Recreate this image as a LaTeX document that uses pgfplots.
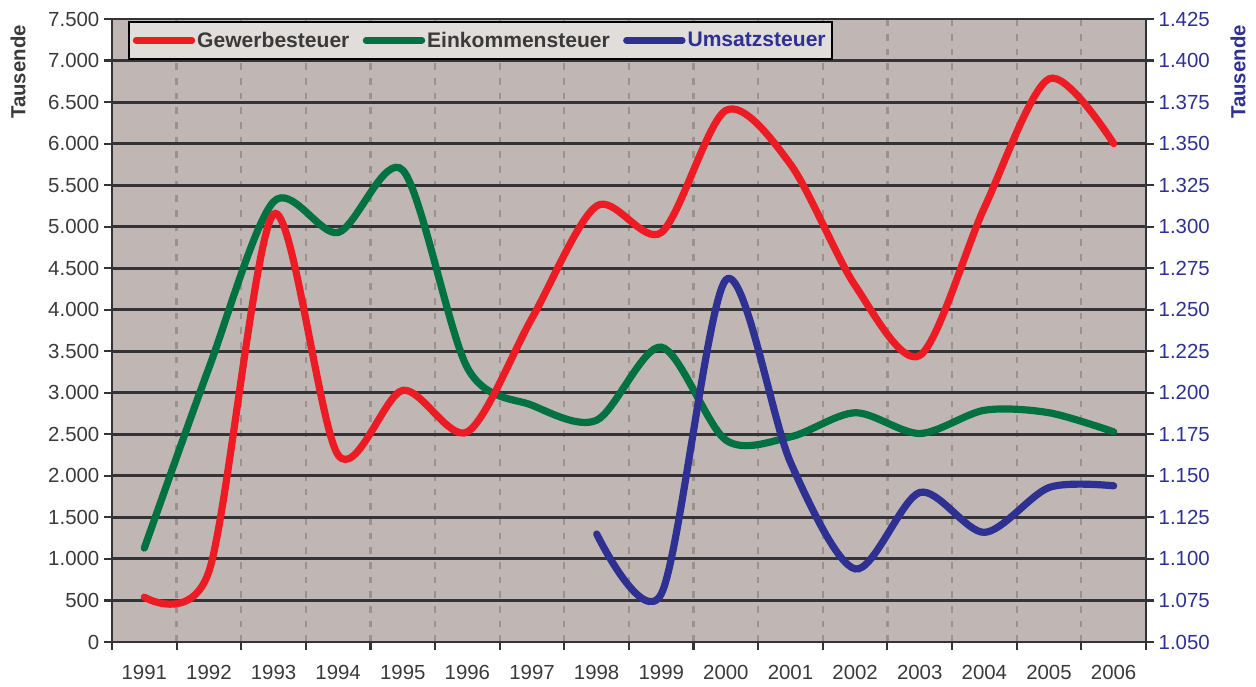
\documentclass[border=0pt]{standalone}
\usepackage{pgfplots}
\pgfplotsset{compat=1.18}
\usepackage{fontspec}
\setmainfont{Liberation Sans}
\definecolor{bg}{HTML}{C0B7B4}
\definecolor{gridc}{HTML}{333338}
\definecolor{dashc}{HTML}{9C918F}
\definecolor{topc}{HTML}{8C8280}
\definecolor{labc}{HTML}{3A3A3A}
\definecolor{legbg}{HTML}{E1DDDB}
\definecolor{cred}{HTML}{ED1C24}
\definecolor{cgreen}{HTML}{007141}
\definecolor{cblue}{HTML}{2E3192}
\newcommand{\tfont}{\fontsize{15.3}{18}\selectfont}
\begin{document}
\begin{tikzpicture}
\begin{axis}[
  at={(0,0)}, anchor=south west,
  scale only axis, width=775.5pt, height=467.25pt,
  xmin=1990.5, xmax=2006.5, ymin=0, ymax=7500,
  axis background/.style={fill=bg, draw=topc, line width=1.2pt},
  axis x line*=bottom, axis y line*=left,
  axis line style={draw=gridc, line width=2.2pt},
  xtick={1991,...,2006},
  xticklabels={1991,1992,1993,1994,1995,1996,1997,1998,1999,2000,2001,2002,2003,2004,2005,2006},
  major x tick style={draw=none},
  minor xtick={1990.5,1991.5,...,2006.5},
  minor x tick style={draw=gridc, line width=1.6pt},
  minor tick length=6pt,
  xminorgrids=true,
  minor x grid style={draw=dashc, line width=1.7pt, dash pattern=on 5pt off 6pt},
  ytick={0,500,...,7500},
  ytick style={draw=gridc, line width=1.6pt},
  major tick length=6pt,
  tick align=outside,
  ymajorgrids=true,
  major y grid style={draw=gridc, line width=2.2pt},
  /pgf/number format/1000 sep={.},
  /pgf/number format/assume math mode=true,
  tick label style={font=\tfont, text=labc},
  xticklabel style={yshift=-8pt},
  ylabel={\textbf{Tausende}},
  ylabel style={at={(axis description cs:-0.0909,0.915)}, anchor=center, font=\tfont, text=labc},
  legend columns=3,
  legend style={at={(0.0155,0.9968)}, anchor=north west, draw=black, fill=legbg,
    line width=1.2pt, font=\bfseries\fontsize{15.8}{18}\selectfont, text=labc,
    inner xsep=3pt, inner ysep=5.5pt,
    nodes={inner xsep=1.5pt},
    /tikz/every even column/.append style={column sep=8.5pt}},
  legend image code/.code={\draw[#1, line width=4.8pt, line cap=round] (0pt,0pt) -- (42pt,0pt);},
]
\addplot[cgreen, line width=5.4pt, smooth, line cap=round, forget plot] coordinates {
(1991,1130) (1992,3300) (1993,5300) (1994,4930) (1995,5680) (1996,3300)
(1997,2850) (1998,2670) (1999,3550) (2000,2430) (2001,2470) (2002,2760)
(2003,2510) (2004,2790) (2005,2760) (2006,2530)};
\addplot[cred, line width=5.4pt, smooth, line cap=round] coordinates {
(1991,540) (1992,850) (1993,5150) (1994,2250) (1995,3030) (1996,2530)
(1997,3900) (1998,5250) (1999,4930) (2000,6400) (2001,5750) (2002,4290)
(2003,3450) (2004,5230) (2005,6780) (2006,6000)};
\addlegendentry{Gewerbesteuer}
\addlegendimage{cgreen, line width=5pt}
\addlegendentry{Einkommensteuer}
\addlegendimage{cblue, line width=5pt}
\addlegendentry{\textcolor{cblue}{Umsatzsteuer}}
\end{axis}
\begin{axis}[
  at={(0,0)}, anchor=south west,
  scale only axis, width=775.5pt, height=467.25pt,
  xmin=1990.5, xmax=2006.5, ymin=1050, ymax=1425,
  axis x line=none, axis y line*=right,
  axis line style={draw=gridc, line width=2.2pt},
  ytick={1050,1075,...,1425},
  ytick style={draw=gridc, line width=1.6pt},
  major tick length=6pt,
  tick align=outside,
  /pgf/number format/1000 sep={.},
  /pgf/number format/assume math mode=true,
  tick label style={font=\tfont, text=cblue},
  ylabel={\textbf{Tausende}},
  ylabel style={at={(axis description cs:1.089,0.915)}, anchor=center, font=\tfont, text=cblue},
]
\addplot[cblue, line width=5.4pt, smooth, line cap=round] coordinates {
(1998,1115) (1999,1079) (2000,1268) (2001,1158) (2002,1094) (2003,1140)
(2004,1116) (2005,1143) (2006,1144)};
\end{axis}
\pgfresetboundingbox
\path (-84pt,-33pt) rectangle (858pt,481.5pt);
\end{tikzpicture}
\end{document}
